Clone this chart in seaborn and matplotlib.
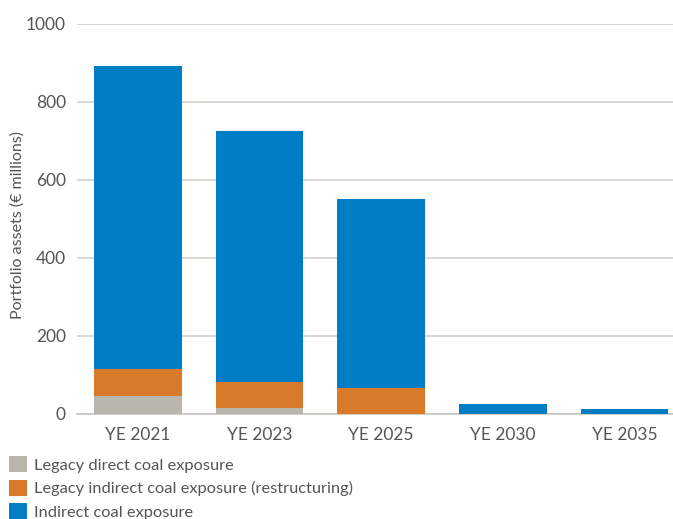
import matplotlib
matplotlib.use("Agg")
import matplotlib.pyplot as plt
from matplotlib.patches import Patch
import seaborn as sns
import pandas as pd
import numpy as np

years = ["YE 2021", "YE 2023", "YE 2025", "YE 2030", "YE 2035"]
legacy_direct = [46, 15, 0, 0, 0]
legacy_indirect = [69, 67, 67, 0, 0]
indirect = [777, 644, 484, 26, 13]
series_names = [
    "Legacy direct coal exposure",
    "Legacy indirect coal exposure (restructuring)",
    "Indirect coal exposure",
]
colors = ["#B9B6AE", "#D9792A", "#007DC5"]

sns.set_theme(style="white")
plt.rcParams["font.family"] = ["Lato", "DejaVu Sans"]
text_color = "#555555"

fig = plt.figure(figsize=(6.73, 5.19), dpi=100)
ax = fig.add_axes([77 / 673, 105 / 519, 1 - 77 / 673, 390 / 519])

layers = np.array([legacy_direct, legacy_indirect, indirect], dtype=float)
cumulative = np.cumsum(layers, axis=0)

# Stack by drawing cumulative totals from the top layer down
for i in range(len(series_names) - 1, -1, -1):
    df = pd.DataFrame({"year": years, "value": cumulative[i]})
    sns.barplot(data=df, x="year", y="value", color=colors[i], saturation=1,
                width=0.72, linewidth=0, ax=ax, zorder=3)

ax.set_ylim(0, 1000)
ax.set_xlim(-0.5, 4.4)
ax.set_yticks([0, 200, 400, 600, 800, 1000])
ax.yaxis.grid(True, color="#D3D1CB", linewidth=1.2, zorder=0)
ax.xaxis.grid(False)
for s in ["top", "right", "left"]:
    ax.spines[s].set_visible(False)
ax.spines["bottom"].set_color("#C9C7C1")
ax.spines["bottom"].set_linewidth(1.2)
ax.tick_params(axis="both", length=0, labelsize=12.5, colors=text_color, pad=8)
ax.tick_params(axis="x", pad=9)
ax.set_xlabel("")
ax.set_ylabel("Portfolio assets (€ millions)", fontsize=11.5, color=text_color)
ax.yaxis.set_label_coords(-0.087, 0.485)

handles = [Patch(facecolor=c, edgecolor="none") for c in colors]
fig.legend(handles, series_names, loc="upper left", bbox_to_anchor=(0.003, 0.134),
           frameon=False, fontsize=11.8, handlelength=1.15, handleheight=1.15,
           handletextpad=0.4, labelspacing=0.42, labelcolor=text_color,
           borderaxespad=0)

fig.savefig("out.png", dpi=100)
